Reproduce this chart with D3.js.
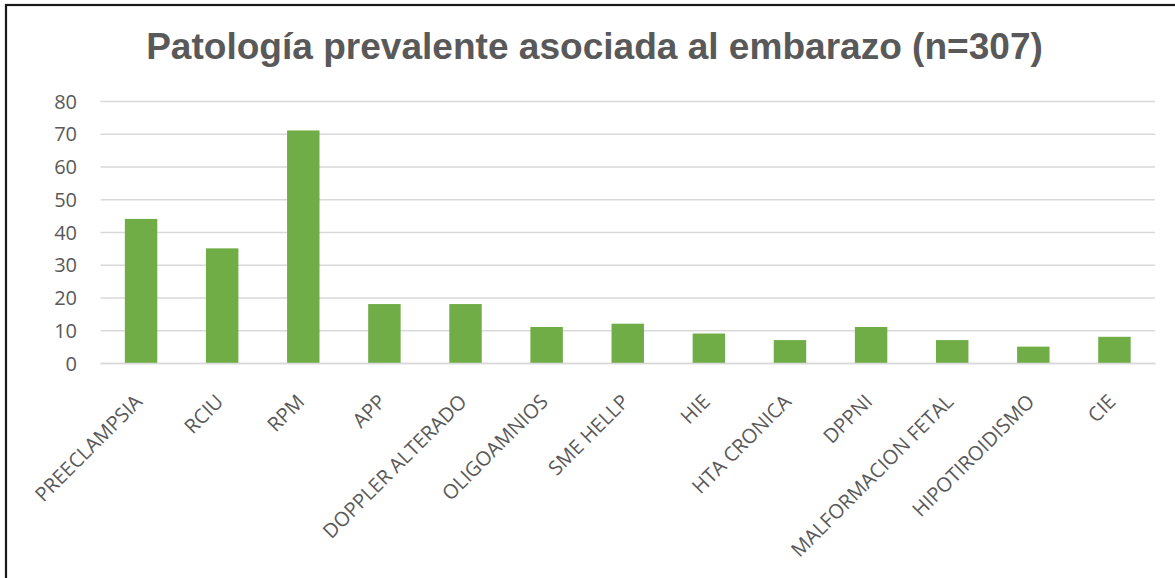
<!DOCTYPE html>
<html>
<head>
<meta charset="utf-8">
<script src="https://cdn.jsdelivr.net/npm/d3@7"></script>
<style>
  html, body { margin: 0; padding: 0; background: #ffffff; overflow: hidden; }
  svg { display: block; }
</style>
</head>
<body>
<script>
const categories = ["PREECLAMPSIA", "RCIU", "RPM", "APP", "DOPPLER ALTERADO", "OLIGOAMNIOS",
  "SME HELLP", "HIE", "HTA CRONICA", "DPPNI", "MALFORMACION FETAL", "HIPOTIROIDISMO", "CIE"];
const values = [44, 35, 71, 18, 18, 11, 12, 9, 7, 11, 7, 5, 8];
const yTicks = [0, 10, 20, 30, 40, 50, 60, 70, 80];
const title = "Patología prevalente asociada al embarazo (n=307)";

const W = 1175, H = 578;
const plot = { left: 100.5, right: 1155, top: 101, bottom: 363 };
const textColor = "#595959";
const barColor = "#70AD47";
const gridColor = "#D9D9D9";

const svg = d3.select("body").append("svg").attr("width", W).attr("height", H);

svg.append("rect").attr("x", 0).attr("y", 0).attr("width", W).attr("height", H).attr("fill", "#fff");

// outer border (extends beyond right/bottom edges as in the reference)
svg.append("rect")
  .attr("x", 6).attr("y", 5)
  .attr("width", 1400).attr("height", 800)
  .attr("fill", "none").attr("stroke", "#1a1a1a").attr("stroke-width", 2.2);

const x = d3.scaleBand().domain(categories).range([plot.left, plot.right]).paddingInner(0.6).paddingOuter(0.3);
const y = d3.scaleLinear().domain([0, 80]).range([plot.bottom, plot.top]);

// gridlines
const yAxis = d3.axisLeft(y).tickValues(yTicks).tickSize(-(plot.right - plot.left)).tickPadding(23.5);
const gy = svg.append("g").attr("transform", `translate(${plot.left},0)`).call(yAxis);
gy.select(".domain").remove();
gy.selectAll(".tick line").attr("stroke", gridColor).attr("stroke-width", 1.4);
gy.selectAll(".tick text")
  .attr("fill", textColor)
  .style("font-family", "'Open Sans', sans-serif")
  .style("font-size", "20px")
  .attr("dy", "0.36em");

// bars
svg.append("g").selectAll("rect").data(values).join("rect")
  .attr("x", (d, i) => x(categories[i]))
  .attr("y", d => y(d))
  .attr("width", x.bandwidth())
  .attr("height", d => y(0) - y(d))
  .attr("fill", barColor);

// x axis baseline
const xAxis = d3.axisBottom(x).tickSize(0).tickPadding(0);
const gx = svg.append("g").attr("transform", `translate(0,${plot.bottom})`).call(xAxis);
gx.select(".domain").attr("stroke", gridColor).attr("stroke-width", 1.4);
gx.selectAll(".tick text")
  .attr("fill", textColor)
  .style("font-family", "'Open Sans', sans-serif")
  .style("font-size", "20px")
  .attr("text-anchor", "end")
  .attr("dy", null)
  .attr("y", null)
  .attr("transform", "translate(2.5,40) rotate(-45)");

// title
const t = svg.append("text")
  .attr("x", 594.5).attr("y", 59)
  .attr("text-anchor", "middle")
  .attr("fill", textColor)
  .style("font-family", "'Liberation Sans', Arial, sans-serif")
  .style("font-weight", "bold")
  .style("font-size", "32px")
  .text(title);
const tw = t.node().getComputedTextLength();
t.style("font-size", (32 * 897 / tw).toFixed(2) + "px");
</script>
</body>
</html>
